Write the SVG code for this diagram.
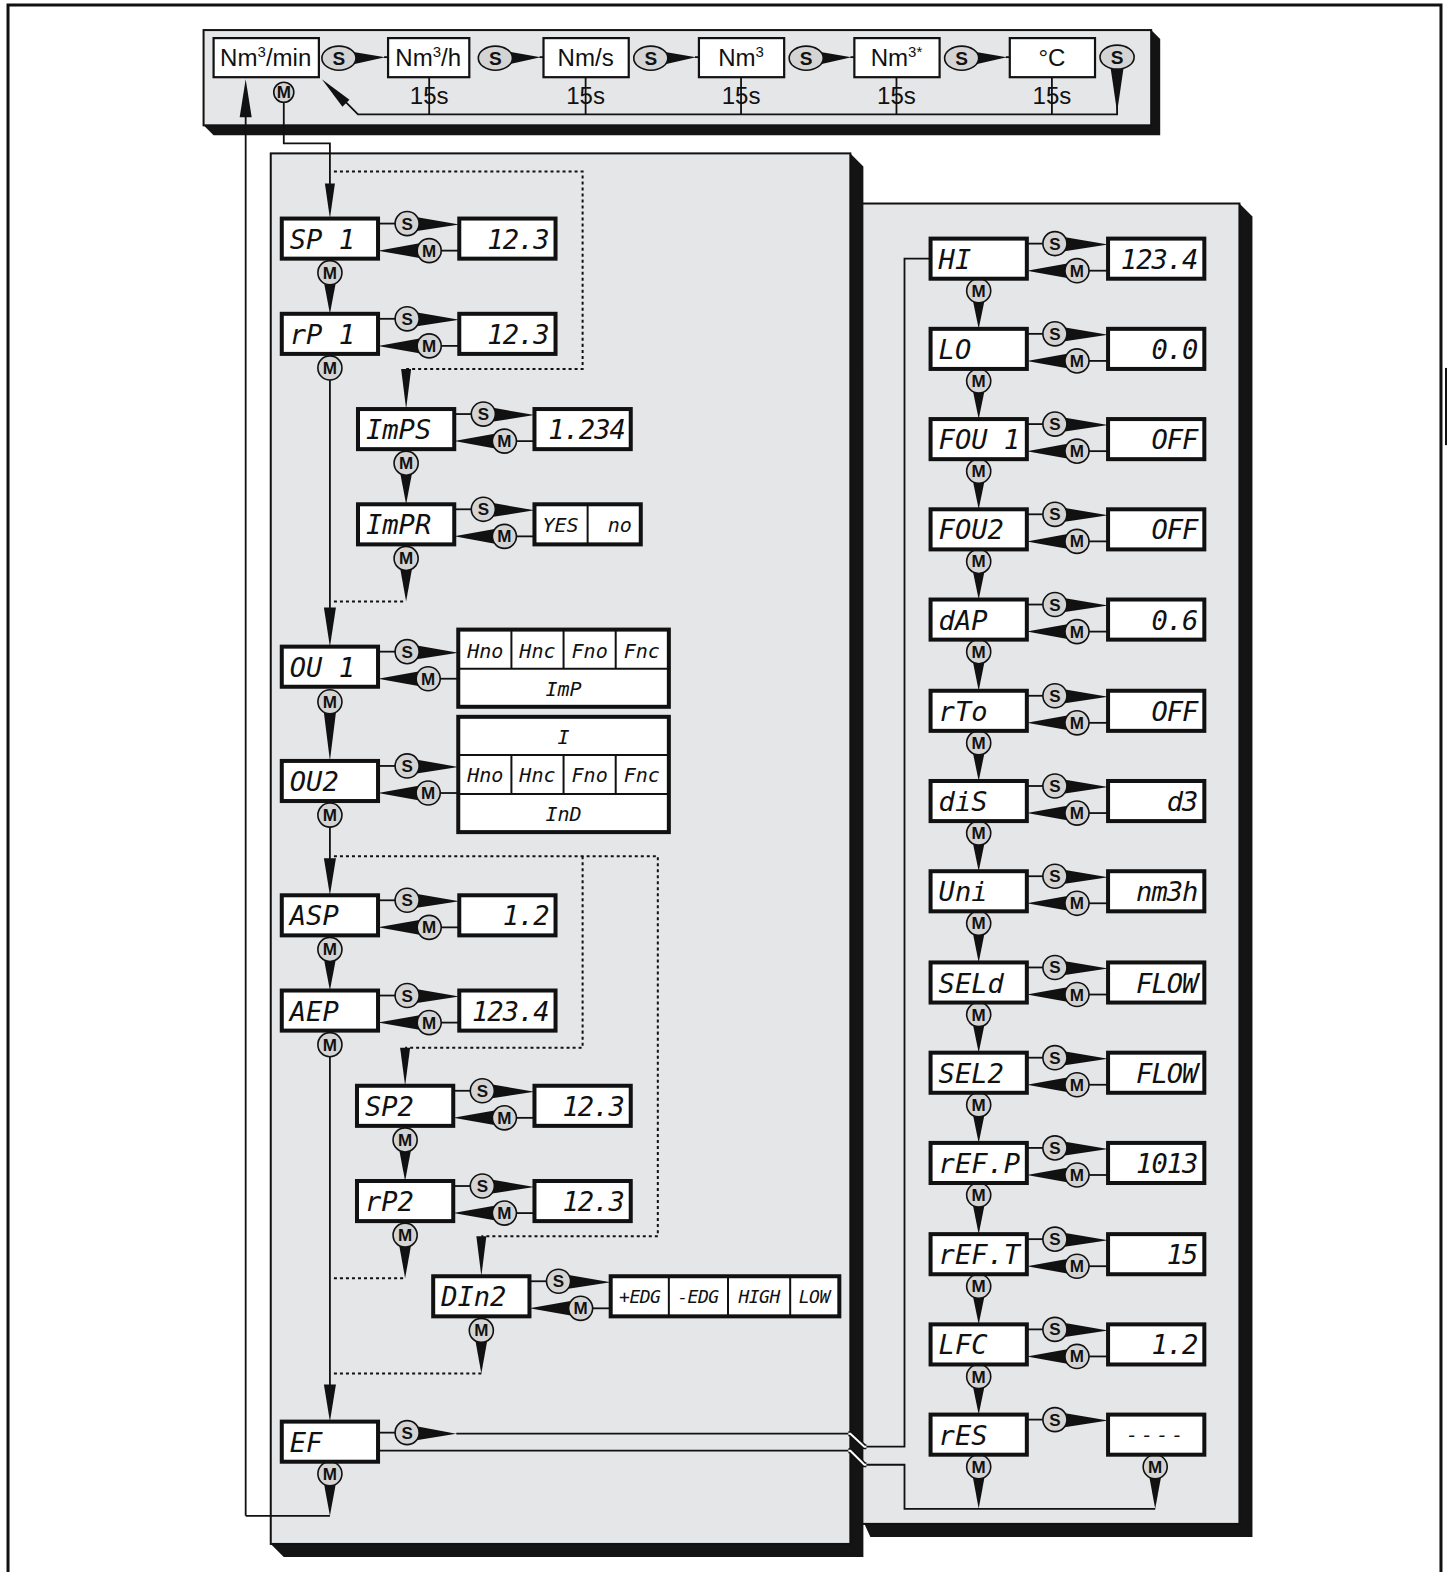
<svg xmlns="http://www.w3.org/2000/svg" width="1447" height="1572" viewBox="0 0 1447 1572">
<style>
.bg{fill:#fff}
.panel{fill:#e5e6e8;stroke:#111;stroke-width:2}
.shadow{fill:#141414}
.box{fill:#fff;stroke:#111;stroke-width:4}
.ubox{fill:#fff;stroke:#111;stroke-width:2.2}
.div{stroke:#111;stroke-width:2}
.ln{stroke:#111;stroke-width:1.8;fill:none}
.dot{stroke:#111;stroke-width:2;stroke-dasharray:3 3;fill:none}
.wd{fill:#111}
.btn{fill:#d4d4d4;stroke:#111;stroke-width:1.6}
circle.btn{r:12px}
.bt{font-family:"Liberation Sans",Arial,sans-serif;font-weight:bold;font-size:17px;text-anchor:middle;fill:#111}
.bto{font-family:"Liberation Sans",Arial,sans-serif;font-weight:bold;font-size:19px;text-anchor:middle;fill:#111}
.lcd{font-family:"DejaVu Sans Mono",monospace;font-style:oblique;font-size:27px;fill:#111}
.lcdv{font-family:"DejaVu Sans Mono",monospace;font-style:oblique;font-size:27px;fill:#111;text-anchor:end;letter-spacing:-1px}
.lcds{font-family:"DejaVu Sans Mono",monospace;font-style:oblique;font-size:20px;fill:#111;text-anchor:middle}
.lcdt{font-family:"DejaVu Sans Mono",monospace;font-style:oblique;font-size:18px;fill:#111;text-anchor:middle;letter-spacing:-0.5px}
.unit{font-family:"Liberation Sans",Arial,sans-serif;font-size:24px;fill:#111;text-anchor:middle}
.jog{stroke:#111;stroke-width:5;fill:none}
.jogw{stroke:#fff;stroke-width:2;fill:none}
</style>
<rect class="bg" x="0" y="0" width="1447" height="1572"/>
<g transform="scale(1.00277,1.00255)">
<g id="frame">
<path d="M8,1572 V5 H1437 V1572" fill="none" stroke="#111" stroke-width="3"/>
<line x1="1442" y1="367" x2="1442" y2="444" stroke="#111" stroke-width="2"/>
</g>
<g id="panel-right">
<polygon class="shadow" points="1236,203 1249,216 1249,1533 868,1533 862,1520"/>
<rect class="panel" x="855" y="203" width="381" height="1317"/>
</g>
<g id="panel-left">
<polygon class="shadow" points="848,153 861,166 861,1553 283,1553 270,1540"/>
<rect class="panel" x="270" y="153" width="578" height="1387"/>
</g>
<g id="panel-top">
<polygon class="shadow" points="1148,30 1157,39 1157,135 213,135 203,125"/>
<rect class="panel" x="203" y="30" width="945" height="95"/>
</g>

<g id="u-nm3min"><rect class="ubox" x="213" y="38" width="105" height="39"/><text class="unit" x="265" y="66">Nm<tspan font-size="15" dy="-9">3</tspan><tspan dy="9">/min</tspan></text></g>
<g id="u-nm3h"><rect class="ubox" x="387" y="38" width="81" height="39"/><text class="unit" x="427" y="66">Nm<tspan font-size="15" dy="-9">3</tspan><tspan dy="9">/h</tspan></text></g>
<g id="u-nms"><rect class="ubox" x="542" y="38" width="85" height="39"/><text class="unit" x="584" y="66">Nm/s</text></g>
<g id="u-nm3"><rect class="ubox" x="697" y="38" width="85" height="39"/><text class="unit" x="739" y="66">Nm<tspan font-size="15" dy="-9">3</tspan></text></g>
<g id="u-nm3s"><rect class="ubox" x="852" y="38" width="85" height="39"/><text class="unit" x="894" y="66">Nm<tspan font-size="15" dy="-9">3*</tspan></text></g>
<g id="u-degc"><rect class="ubox" x="1007" y="38" width="85" height="39"/><text class="unit" x="1049" y="66">°C</text></g>

<g id="connectors">
<g class="ln">
<line x1="428" y1="77" x2="428" y2="114"/><line x1="584" y1="77" x2="584" y2="114"/><line x1="739" y1="77" x2="739" y2="114"/><line x1="894" y1="77" x2="894" y2="114"/><line x1="1049" y1="77" x2="1049" y2="114"/>
<polyline points="1114,100 1114,114 357,114 335,92"/>
<line x1="383" y1="57" x2="387" y2="57"/><line x1="538" y1="57" x2="542" y2="57"/><line x1="693" y1="57" x2="697" y2="57"/><line x1="848" y1="57" x2="852" y2="57"/><line x1="1003" y1="57" x2="1007" y2="57"/>
<polyline points="245,1512 245,110"/>
<polyline points="283,100 283,143 329,143 329,190"/>
<polyline points="329,1512 245,1512"/>
</g>
<polygon class="wd" points="321,79 348.5,99.5 341.5,106.5"/>
<polygon class="wd" points="239,117 251,117 245,79"/>
<polygon class="wd" points="324,183 334,183 329,218"/>
<polygon class="wd" points="348,51 384,57 348,65"/>
<polygon class="wd" points="504,51 539,57 504,65"/>
<polygon class="wd" points="659,51 694,57 659,65"/>
<polygon class="wd" points="814,51 849,57 814,65"/>
<polygon class="wd" points="969,51 1004,57 969,65"/>
<polygon class="wd" points="1107,64 1121,64 1114,112"/>
<g>
<ellipse class="btn" cx="338" cy="58" rx="17" ry="12"/><text class="bto" x="338" y="65">S</text>
<ellipse class="btn" cx="494" cy="58" rx="17" ry="12"/><text class="bto" x="494" y="65">S</text>
<ellipse class="btn" cx="649" cy="58" rx="17" ry="12"/><text class="bto" x="649" y="65">S</text>
<ellipse class="btn" cx="804" cy="58" rx="17" ry="12"/><text class="bto" x="804" y="65">S</text>
<ellipse class="btn" cx="959" cy="58" rx="17" ry="12"/><text class="bto" x="959" y="65">S</text>
<ellipse class="btn" cx="1114" cy="57" rx="17" ry="12"/><text class="bto" x="1114" y="64">S</text>
<circle class="btn" cx="283" cy="92" r="10" style="r:10px"/><text class="bt" x="283" y="98">M</text>
</g>
<g class="unit"><text x="428" y="104">15s</text><text x="584" y="104">15s</text><text x="739" y="104">15s</text><text x="894" y="104">15s</text><text x="1049" y="104">15s</text></g>

<g class="dot">
<polyline points="333,171 581,171 581,368 405,368"/>
<polyline points="333,600 405,600"/>
<polyline points="333,854 656,854 656,1233 480,1233"/>
<polyline points="581,854 581,1045 404,1045"/>
<polyline points="333,1275 404,1275"/>
<polyline points="333,1370 480,1370"/>
</g>
<polygon class="wd" points="400,368 410,368 405,408"/>
<polygon class="wd" points="399,1045 409,1045 404,1083"/>
<polygon class="wd" points="475,1233 485,1233 480,1273"/>

<g class="ln">
<line x1="329" y1="367" x2="329" y2="610"/>
<line x1="329" y1="813" x2="329" y2="860"/>
<line x1="329" y1="1042" x2="329" y2="1385"/>
</g>
<polygon class="wd" points="323,606 335,606 329,645"/>
<polygon class="wd" points="323,856 335,856 329,893"/>
<polygon class="wd" points="323,1381 335,1381 329,1418"/>

<g class="ln">
<line x1="377" y1="223" x2="395" y2="223"/><line x1="439" y1="250" x2="458" y2="250"/>
<line x1="377" y1="318" x2="395" y2="318"/><line x1="439" y1="345" x2="458" y2="345"/>
<line x1="453" y1="413" x2="471" y2="413"/><line x1="514" y1="440" x2="533" y2="440"/>
<line x1="453" y1="508" x2="471" y2="508"/><line x1="514" y1="535" x2="533" y2="535"/>
<line x1="377" y1="650" x2="395" y2="650"/><line x1="438" y1="677" x2="457" y2="677"/>
<line x1="377" y1="764" x2="395" y2="764"/><line x1="438" y1="791" x2="457" y2="791"/>
<line x1="377" y1="898" x2="395" y2="898"/><line x1="439" y1="925" x2="458" y2="925"/>
<line x1="377" y1="993" x2="395" y2="993"/><line x1="439" y1="1020" x2="458" y2="1020"/>
<line x1="452" y1="1088" x2="470" y2="1088"/><line x1="514" y1="1115" x2="533" y2="1115"/>
<line x1="452" y1="1183" x2="470" y2="1183"/><line x1="514" y1="1210" x2="533" y2="1210"/>
<line x1="528" y1="1278" x2="546" y2="1278"/><line x1="590" y1="1305" x2="609" y2="1305"/>
<line x1="377" y1="1429" x2="395" y2="1429"/>
<line x1="455" y1="1430" x2="848" y2="1430"/>
<line x1="377" y1="1447" x2="848" y2="1447"/>
<polyline points="862,1443 902,1443 902,258 928,258"/>
<polyline points="862,1461 902,1461 902,1505 1152,1505"/>
</g>
<polyline class="jog" points="846,1430 848,1430 862,1443 864,1443"/>
<polyline class="jogw" points="846,1430 848,1430 862,1443 864,1443"/>
<polyline class="jog" points="846,1447 848,1447 862,1461 864,1461"/>
<polyline class="jogw" points="846,1447 848,1447 862,1461 864,1461"/>
<g class="wd">
<polygon points="406,215 458,224 406,232"/><polygon points="428,241 377,250 428,259"/><polygon points="322,276 336,276 329,313"/>
<polygon points="406,310 458,319 406,327"/><polygon points="428,336 377,345 428,354"/>
<polygon points="482,405 533,414 482,422"/><polygon points="503,431 453,440 503,449"/><polygon points="398,466 412,466 405,503"/>
<polygon points="482,500 533,509 482,517"/><polygon points="503,526 453,535 503,544"/><polygon points="398,561 412,561 405,600"/>
<polygon points="406,642 457,651 406,659"/><polygon points="427,668 377,677 427,686"/><polygon points="322,703 336,703 329,759"/>
<polygon points="406,756 457,765 406,773"/><polygon points="427,782 377,791 427,800"/>
<polygon points="406,890 458,899 406,907"/><polygon points="428,916 377,925 428,934"/><polygon points="322,951 336,951 329,988"/>
<polygon points="406,985 458,994 406,1002"/><polygon points="428,1011 377,1020 428,1029"/>
<polygon points="481,1080 533,1089 481,1097"/><polygon points="503,1106 452,1115 503,1124"/><polygon points="397,1141 411,1141 404,1178"/>
<polygon points="481,1175 533,1184 481,1192"/><polygon points="503,1201 452,1210 503,1219"/><polygon points="397,1236 411,1236 404,1275"/>
<polygon points="557,1270 609,1279 557,1287"/><polygon points="579,1296 528,1305 579,1314"/><polygon points="473,1331 487,1331 480,1370"/>
<polygon points="406,1421 455,1430 406,1438"/><polygon points="322,1474 336,1474 329,1512"/>
</g>
<g>
<circle class="btn" cx="406" cy="223" r="12"/><text class="bt" x="406" y="229">S</text>
<circle class="btn" cx="428" cy="250" r="12"/><text class="bt" x="428" y="256">M</text>
<circle class="btn" cx="329" cy="272" r="12"/><text class="bt" x="329" y="278">M</text>
<circle class="btn" cx="406" cy="318" r="12"/><text class="bt" x="406" y="324">S</text>
<circle class="btn" cx="428" cy="345" r="12"/><text class="bt" x="428" y="351">M</text>
<circle class="btn" cx="329" cy="367" r="12"/><text class="bt" x="329" y="373">M</text>
<circle class="btn" cx="482" cy="413" r="12"/><text class="bt" x="482" y="419">S</text>
<circle class="btn" cx="503" cy="440" r="12"/><text class="bt" x="503" y="446">M</text>
<circle class="btn" cx="405" cy="462" r="12"/><text class="bt" x="405" y="468">M</text>
<circle class="btn" cx="482" cy="508" r="12"/><text class="bt" x="482" y="514">S</text>
<circle class="btn" cx="503" cy="535" r="12"/><text class="bt" x="503" y="541">M</text>
<circle class="btn" cx="405" cy="557" r="12"/><text class="bt" x="405" y="563">M</text>
<circle class="btn" cx="406" cy="650" r="12"/><text class="bt" x="406" y="656">S</text>
<circle class="btn" cx="427" cy="677" r="12"/><text class="bt" x="427" y="683">M</text>
<circle class="btn" cx="329" cy="700" r="12"/><text class="bt" x="329" y="706">M</text>
<circle class="btn" cx="406" cy="764" r="12"/><text class="bt" x="406" y="770">S</text>
<circle class="btn" cx="427" cy="791" r="12"/><text class="bt" x="427" y="797">M</text>
<circle class="btn" cx="329" cy="813" r="12"/><text class="bt" x="329" y="819">M</text>
<circle class="btn" cx="406" cy="898" r="12"/><text class="bt" x="406" y="904">S</text>
<circle class="btn" cx="428" cy="925" r="12"/><text class="bt" x="428" y="931">M</text>
<circle class="btn" cx="329" cy="947" r="12"/><text class="bt" x="329" y="953">M</text>
<circle class="btn" cx="406" cy="993" r="12"/><text class="bt" x="406" y="999">S</text>
<circle class="btn" cx="428" cy="1020" r="12"/><text class="bt" x="428" y="1026">M</text>
<circle class="btn" cx="329" cy="1042" r="12"/><text class="bt" x="329" y="1048">M</text>
<circle class="btn" cx="481" cy="1088" r="12"/><text class="bt" x="481" y="1094">S</text>
<circle class="btn" cx="503" cy="1115" r="12"/><text class="bt" x="503" y="1121">M</text>
<circle class="btn" cx="404" cy="1137" r="12"/><text class="bt" x="404" y="1143">M</text>
<circle class="btn" cx="481" cy="1183" r="12"/><text class="bt" x="481" y="1189">S</text>
<circle class="btn" cx="503" cy="1210" r="12"/><text class="bt" x="503" y="1216">M</text>
<circle class="btn" cx="404" cy="1232" r="12"/><text class="bt" x="404" y="1238">M</text>
<circle class="btn" cx="557" cy="1278" r="12"/><text class="bt" x="557" y="1284">S</text>
<circle class="btn" cx="579" cy="1305" r="12"/><text class="bt" x="579" y="1311">M</text>
<circle class="btn" cx="480" cy="1327" r="12"/><text class="bt" x="480" y="1333">M</text>
<circle class="btn" cx="406" cy="1429" r="12"/><text class="bt" x="406" y="1435">S</text>
<circle class="btn" cx="329" cy="1470" r="12"/><text class="bt" x="329" y="1476">M</text>
</g>

<g class="ln">
<line x1="1024" y1="243" x2="1041" y2="243"/><line x1="1085" y1="270" x2="1105" y2="270"/>
<line x1="1024" y1="333" x2="1041" y2="333"/><line x1="1085" y1="360" x2="1105" y2="360"/>
<line x1="1024" y1="423" x2="1041" y2="423"/><line x1="1085" y1="450" x2="1105" y2="450"/>
<line x1="1024" y1="513" x2="1041" y2="513"/><line x1="1085" y1="540" x2="1105" y2="540"/>
<line x1="1024" y1="603" x2="1041" y2="603"/><line x1="1085" y1="630" x2="1105" y2="630"/>
<line x1="1024" y1="694" x2="1041" y2="694"/><line x1="1085" y1="721" x2="1105" y2="721"/>
<line x1="1024" y1="784" x2="1041" y2="784"/><line x1="1085" y1="811" x2="1105" y2="811"/>
<line x1="1024" y1="874" x2="1041" y2="874"/><line x1="1085" y1="901" x2="1105" y2="901"/>
<line x1="1024" y1="965" x2="1041" y2="965"/><line x1="1085" y1="992" x2="1105" y2="992"/>
<line x1="1024" y1="1055" x2="1041" y2="1055"/><line x1="1085" y1="1082" x2="1105" y2="1082"/>
<line x1="1024" y1="1145" x2="1041" y2="1145"/><line x1="1085" y1="1172" x2="1105" y2="1172"/>
<line x1="1024" y1="1236" x2="1041" y2="1236"/><line x1="1085" y1="1263" x2="1105" y2="1263"/>
<line x1="1024" y1="1326" x2="1041" y2="1326"/><line x1="1085" y1="1353" x2="1105" y2="1353"/>
<line x1="1024" y1="1416" x2="1041" y2="1416"/>
</g>
<g class="wd">
<polygon points="1052,235 1105,244 1052,252"/><polygon points="1074,261 1024,270 1074,279"/><polygon points="969,294 983,294 976,328"/>
<polygon points="1052,325 1105,334 1052,342"/><polygon points="1074,351 1024,360 1074,369"/><polygon points="969,384 983,384 976,418"/>
<polygon points="1052,415 1105,424 1052,432"/><polygon points="1074,441 1024,450 1074,459"/><polygon points="969,474 983,474 976,508"/>
<polygon points="1052,505 1105,514 1052,522"/><polygon points="1074,531 1024,540 1074,549"/><polygon points="969,564 983,564 976,598"/>
<polygon points="1052,595 1105,604 1052,612"/><polygon points="1074,621 1024,630 1074,639"/><polygon points="969,654 983,654 976,689"/>
<polygon points="1052,686 1105,695 1052,703"/><polygon points="1074,712 1024,721 1074,730"/><polygon points="969,745 983,745 976,779"/>
<polygon points="1052,776 1105,785 1052,793"/><polygon points="1074,802 1024,811 1074,820"/><polygon points="969,835 983,835 976,869"/>
<polygon points="1052,866 1105,875 1052,883"/><polygon points="1074,892 1024,901 1074,910"/><polygon points="969,925 983,925 976,960"/>
<polygon points="1052,957 1105,966 1052,974"/><polygon points="1074,983 1024,992 1074,1001"/><polygon points="969,1016 983,1016 976,1050"/>
<polygon points="1052,1047 1105,1056 1052,1064"/><polygon points="1074,1073 1024,1082 1074,1091"/><polygon points="969,1106 983,1106 976,1140"/>
<polygon points="1052,1137 1105,1146 1052,1154"/><polygon points="1074,1163 1024,1172 1074,1181"/><polygon points="969,1196 983,1196 976,1231"/>
<polygon points="1052,1228 1105,1237 1052,1245"/><polygon points="1074,1254 1024,1263 1074,1272"/><polygon points="969,1287 983,1287 976,1321"/>
<polygon points="1052,1318 1105,1327 1052,1335"/><polygon points="1074,1344 1024,1353 1074,1362"/><polygon points="969,1377 983,1377 976,1411"/>
<polygon points="1052,1408 1105,1417 1052,1425"/><polygon points="969,1467 983,1467 976,1505"/><polygon points="1145,1467 1159,1467 1152,1505"/>
</g>
<g>
<circle class="btn" cx="1052" cy="243" r="12"/><text class="bt" x="1052" y="249">S</text><circle class="btn" cx="1074" cy="270" r="12"/><text class="bt" x="1074" y="276">M</text><circle class="btn" cx="976" cy="290" r="12"/><text class="bt" x="976" y="296">M</text>
<circle class="btn" cx="1052" cy="333" r="12"/><text class="bt" x="1052" y="339">S</text><circle class="btn" cx="1074" cy="360" r="12"/><text class="bt" x="1074" y="366">M</text><circle class="btn" cx="976" cy="380" r="12"/><text class="bt" x="976" y="386">M</text>
<circle class="btn" cx="1052" cy="423" r="12"/><text class="bt" x="1052" y="429">S</text><circle class="btn" cx="1074" cy="450" r="12"/><text class="bt" x="1074" y="456">M</text><circle class="btn" cx="976" cy="470" r="12"/><text class="bt" x="976" y="476">M</text>
<circle class="btn" cx="1052" cy="513" r="12"/><text class="bt" x="1052" y="519">S</text><circle class="btn" cx="1074" cy="540" r="12"/><text class="bt" x="1074" y="546">M</text><circle class="btn" cx="976" cy="560" r="12"/><text class="bt" x="976" y="566">M</text>
<circle class="btn" cx="1052" cy="603" r="12"/><text class="bt" x="1052" y="609">S</text><circle class="btn" cx="1074" cy="630" r="12"/><text class="bt" x="1074" y="636">M</text><circle class="btn" cx="976" cy="650" r="12"/><text class="bt" x="976" y="656">M</text>
<circle class="btn" cx="1052" cy="694" r="12"/><text class="bt" x="1052" y="700">S</text><circle class="btn" cx="1074" cy="721" r="12"/><text class="bt" x="1074" y="727">M</text><circle class="btn" cx="976" cy="741" r="12"/><text class="bt" x="976" y="747">M</text>
<circle class="btn" cx="1052" cy="784" r="12"/><text class="bt" x="1052" y="790">S</text><circle class="btn" cx="1074" cy="811" r="12"/><text class="bt" x="1074" y="817">M</text><circle class="btn" cx="976" cy="831" r="12"/><text class="bt" x="976" y="837">M</text>
<circle class="btn" cx="1052" cy="874" r="12"/><text class="bt" x="1052" y="880">S</text><circle class="btn" cx="1074" cy="901" r="12"/><text class="bt" x="1074" y="907">M</text><circle class="btn" cx="976" cy="921" r="12"/><text class="bt" x="976" y="927">M</text>
<circle class="btn" cx="1052" cy="965" r="12"/><text class="bt" x="1052" y="971">S</text><circle class="btn" cx="1074" cy="992" r="12"/><text class="bt" x="1074" y="998">M</text><circle class="btn" cx="976" cy="1012" r="12"/><text class="bt" x="976" y="1018">M</text>
<circle class="btn" cx="1052" cy="1055" r="12"/><text class="bt" x="1052" y="1061">S</text><circle class="btn" cx="1074" cy="1082" r="12"/><text class="bt" x="1074" y="1088">M</text><circle class="btn" cx="976" cy="1102" r="12"/><text class="bt" x="976" y="1108">M</text>
<circle class="btn" cx="1052" cy="1145" r="12"/><text class="bt" x="1052" y="1151">S</text><circle class="btn" cx="1074" cy="1172" r="12"/><text class="bt" x="1074" y="1178">M</text><circle class="btn" cx="976" cy="1192" r="12"/><text class="bt" x="976" y="1198">M</text>
<circle class="btn" cx="1052" cy="1236" r="12"/><text class="bt" x="1052" y="1242">S</text><circle class="btn" cx="1074" cy="1263" r="12"/><text class="bt" x="1074" y="1269">M</text><circle class="btn" cx="976" cy="1283" r="12"/><text class="bt" x="976" y="1289">M</text>
<circle class="btn" cx="1052" cy="1326" r="12"/><text class="bt" x="1052" y="1332">S</text><circle class="btn" cx="1074" cy="1353" r="12"/><text class="bt" x="1074" y="1359">M</text><circle class="btn" cx="976" cy="1373" r="12"/><text class="bt" x="976" y="1379">M</text>
<circle class="btn" cx="1052" cy="1416" r="12"/><text class="bt" x="1052" y="1422">S</text><circle class="btn" cx="976" cy="1463" r="12"/><text class="bt" x="976" y="1469">M</text><circle class="btn" cx="1152" cy="1463" r="12"/><text class="bt" x="1152" y="1469">M</text>
</g>
</g>

<g id="n-sp1"><rect class="box" x="281" y="218" width="96" height="40"/><text class="lcd" x="289" y="248">SP 1</text></g>
<g id="v-sp1"><rect class="box" x="458" y="218" width="96" height="40"/><text class="lcdv" x="547" y="248">12.3</text></g>
<g id="n-rp1"><rect class="box" x="281" y="313" width="96" height="40"/><text class="lcd" x="289" y="343">rP 1</text></g>
<g id="v-rp1"><rect class="box" x="458" y="313" width="96" height="40"/><text class="lcdv" x="547" y="343">12.3</text></g>
<g id="n-imps"><rect class="box" x="357" y="408" width="96" height="40"/><text class="lcd" x="365" y="438">ImPS</text></g>
<g id="v-imps"><rect class="box" x="533" y="408" width="96" height="40"/><text class="lcdv" x="623" y="438">1.234</text></g>
<g id="n-impr"><rect class="box" x="357" y="503" width="96" height="40"/><text class="lcd" x="365" y="533">ImPR</text></g>
<g id="v-impr"><rect class="box" x="533" y="503" width="106" height="40"/><line class="div" x1="586" y1="503" x2="586" y2="543"/><text class="lcds" x="559" y="531">YES</text><text class="lcds" x="618" y="531">no</text></g>
<g id="n-ou1"><rect class="box" x="281" y="645" width="96" height="40"/><text class="lcd" x="289" y="675">OU 1</text></g>
<g id="v-ou1"><rect class="box" x="457" y="628" width="210" height="77"/><line class="div" x1="457" y1="667" x2="667" y2="667"/><line class="div" x1="510" y1="628" x2="510" y2="667"/><line class="div" x1="562" y1="628" x2="562" y2="667"/><line class="div" x1="614" y1="628" x2="614" y2="667"/>
<text class="lcds" x="484" y="656">Hno</text><text class="lcds" x="536" y="656">Hnc</text><text class="lcds" x="588" y="656">Fno</text><text class="lcds" x="640" y="656">Fnc</text><text class="lcds" x="562" y="694">ImP</text></g>
<g id="n-ou2"><rect class="box" x="281" y="759" width="96" height="40"/><text class="lcd" x="289" y="789">OU2</text></g>
<g id="v-ou2"><rect class="box" x="457" y="715" width="210" height="115"/><line class="div" x1="457" y1="753" x2="667" y2="753"/><line class="div" x1="457" y1="792" x2="667" y2="792"/><line class="div" x1="510" y1="753" x2="510" y2="792"/><line class="div" x1="562" y1="753" x2="562" y2="792"/><line class="div" x1="614" y1="753" x2="614" y2="792"/>
<text class="lcds" x="562" y="742">I</text><text class="lcds" x="484" y="780">Hno</text><text class="lcds" x="536" y="780">Hnc</text><text class="lcds" x="588" y="780">Fno</text><text class="lcds" x="640" y="780">Fnc</text><text class="lcds" x="562" y="819">InD</text></g>
<g id="n-asp"><rect class="box" x="281" y="893" width="96" height="40"/><text class="lcd" x="289" y="923">ASP</text></g>
<g id="v-asp"><rect class="box" x="458" y="893" width="96" height="40"/><text class="lcdv" x="547" y="923">1.2</text></g>
<g id="n-aep"><rect class="box" x="281" y="988" width="96" height="40"/><text class="lcd" x="289" y="1018">AEP</text></g>
<g id="v-aep"><rect class="box" x="458" y="988" width="96" height="40"/><text class="lcdv" x="547" y="1018">123.4</text></g>
<g id="n-sp2"><rect class="box" x="356" y="1083" width="96" height="40"/><text class="lcd" x="364" y="1113">SP2</text></g>
<g id="v-sp2"><rect class="box" x="533" y="1083" width="96" height="40"/><text class="lcdv" x="622" y="1113">12.3</text></g>
<g id="n-rp2"><rect class="box" x="356" y="1178" width="96" height="40"/><text class="lcd" x="364" y="1208">rP2</text></g>
<g id="v-rp2"><rect class="box" x="533" y="1178" width="96" height="40"/><text class="lcdv" x="622" y="1208">12.3</text></g>
<g id="n-din2"><rect class="box" x="432" y="1273" width="96" height="40"/><text class="lcd" x="440" y="1303">DIn2</text></g>
<g id="v-din2"><rect class="box" x="609" y="1273" width="228" height="40"/><line class="div" x1="667" y1="1273" x2="667" y2="1313"/><line class="div" x1="726" y1="1273" x2="726" y2="1313"/><line class="div" x1="788" y1="1273" x2="788" y2="1313"/>
<text class="lcdt" x="638" y="1300">+EDG</text><text class="lcdt" x="696" y="1300">-EDG</text><text class="lcdt" x="757" y="1300">HIGH</text><text class="lcdt" x="812" y="1300">LOW</text></g>
<g id="n-ef"><rect class="box" x="281" y="1418" width="96" height="40"/><text class="lcd" x="289" y="1448">EF</text></g>

<g id="n-hi"><rect class="box" x="928" y="238" width="96" height="40"/><text class="lcd" x="936" y="268">HI</text></g>
<g id="v-hi"><rect class="box" x="1105" y="238" width="96" height="40"/><text class="lcdv" x="1194" y="268">123.4</text></g>
<g id="n-lo"><rect class="box" x="928" y="328" width="96" height="40"/><text class="lcd" x="936" y="358">LO</text></g>
<g id="v-lo"><rect class="box" x="1105" y="328" width="96" height="40"/><text class="lcdv" x="1194" y="358">0.0</text></g>
<g id="n-fou1"><rect class="box" x="928" y="418" width="96" height="40"/><text class="lcd" x="936" y="448">FOU 1</text></g>
<g id="v-fou1"><rect class="box" x="1105" y="418" width="96" height="40"/><text class="lcdv" x="1194" y="448">OFF</text></g>
<g id="n-fou2"><rect class="box" x="928" y="508" width="96" height="40"/><text class="lcd" x="936" y="538">FOU2</text></g>
<g id="v-fou2"><rect class="box" x="1105" y="508" width="96" height="40"/><text class="lcdv" x="1194" y="538">OFF</text></g>
<g id="n-dap"><rect class="box" x="928" y="598" width="96" height="40"/><text class="lcd" x="936" y="628">dAP</text></g>
<g id="v-dap"><rect class="box" x="1105" y="598" width="96" height="40"/><text class="lcdv" x="1194" y="628">0.6</text></g>
<g id="n-rto"><rect class="box" x="928" y="689" width="96" height="40"/><text class="lcd" x="936" y="719">rTo</text></g>
<g id="v-rto"><rect class="box" x="1105" y="689" width="96" height="40"/><text class="lcdv" x="1194" y="719">OFF</text></g>
<g id="n-dis"><rect class="box" x="928" y="779" width="96" height="40"/><text class="lcd" x="936" y="809">diS</text></g>
<g id="v-dis"><rect class="box" x="1105" y="779" width="96" height="40"/><text class="lcdv" x="1194" y="809">d3</text></g>
<g id="n-uni"><rect class="box" x="928" y="869" width="96" height="40"/><text class="lcd" x="936" y="899">Uni</text></g>
<g id="v-uni"><rect class="box" x="1105" y="869" width="96" height="40"/><text class="lcdv" x="1194" y="899">nm3h</text></g>
<g id="n-seld"><rect class="box" x="928" y="960" width="96" height="40"/><text class="lcd" x="936" y="990">SELd</text></g>
<g id="v-seld"><rect class="box" x="1105" y="960" width="96" height="40"/><text class="lcdv" x="1194" y="990">FLOW</text></g>
<g id="n-sel2"><rect class="box" x="928" y="1050" width="96" height="40"/><text class="lcd" x="936" y="1080">SEL2</text></g>
<g id="v-sel2"><rect class="box" x="1105" y="1050" width="96" height="40"/><text class="lcdv" x="1194" y="1080">FLOW</text></g>
<g id="n-refp"><rect class="box" x="928" y="1140" width="96" height="40"/><text class="lcd" x="936" y="1170">rEF.P</text></g>
<g id="v-refp"><rect class="box" x="1105" y="1140" width="96" height="40"/><text class="lcdv" x="1194" y="1170">1013</text></g>
<g id="n-reft"><rect class="box" x="928" y="1231" width="96" height="40"/><text class="lcd" x="936" y="1261">rEF.T</text></g>
<g id="v-reft"><rect class="box" x="1105" y="1231" width="96" height="40"/><text class="lcdv" x="1194" y="1261">15</text></g>
<g id="n-lfc"><rect class="box" x="928" y="1321" width="96" height="40"/><text class="lcd" x="936" y="1351">LFC</text></g>
<g id="v-lfc"><rect class="box" x="1105" y="1321" width="96" height="40"/><text class="lcdv" x="1194" y="1351">1.2</text></g>
<g id="n-res"><rect class="box" x="928" y="1411" width="96" height="40"/><text class="lcd" x="936" y="1441">rES</text></g>
<g id="v-res"><rect class="box" x="1105" y="1411" width="96" height="40"/><text class="lcds" x="1153" y="1438" letter-spacing="3">----</text></g>
</g>
</svg>
